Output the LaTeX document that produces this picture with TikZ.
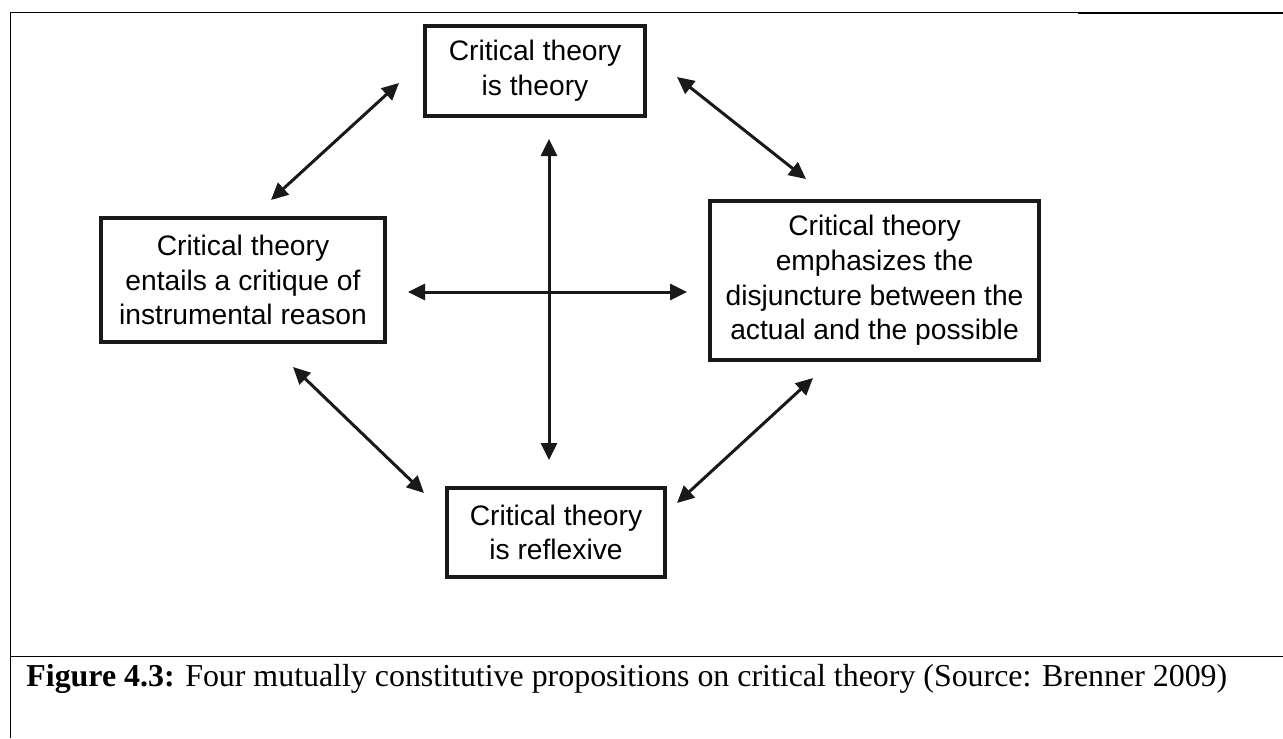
\documentclass[tikz,border=0pt]{standalone}
\usepackage{fontspec}
\setmainfont{Liberation Serif}
\newfontfamily\boxfont{Liberation Sans}
\usetikzlibrary{arrows.meta}
\tikzset{
  prop/.style={draw=black!90,line width=1.8pt,align=center,inner sep=0pt,
    font=\boxfont\fontsize{14.1}{17.3}\selectfont},
  link/.style={<->,line width=1.5pt,draw=black!90}
}
\begin{document}
\begin{tikzpicture}[x=0.5pt,y=-0.5pt,>={Triangle[length=8.5pt,width=8pt]}]
	\useasboundingbox (0,0) rectangle (1283,738);
	% table cell
	\draw[line width=0.5pt] (10,738)--(10,12.7)--(1078,12.7);
	\draw[line width=1pt] (1078,13)--(1283,13);
	\draw[line width=0.75pt] (10,656.5)--(1283,656.5);
	% propositions
	\node[prop,minimum width=110.2pt,minimum height=45.2pt] (theory) at (535,71) {Critical theory\\is theory};
	\node[prop,minimum width=142.2pt,minimum height=62.2pt] (reason) at (243,280) {Critical theory\\entails a critique of\\instrumental reason};
	\node[prop,minimum width=164.7pt,minimum height=79.7pt] (possible) at (874.5,280.5) {Critical theory\\emphasizes the\\disjuncture between the\\actual and the possible};
	\node[prop,minimum width=109.2pt,minimum height=44.7pt] (reflexive) at (556,532.5) {Critical theory\\is reflexive};
	% arrow ends
	\coordinate (tl1) at (271,200); \coordinate (tl2) at (399,83);
	\coordinate (tr1) at (677,77); \coordinate (tr2) at (806,179);
	\coordinate (bl1) at (293,367); \coordinate (bl2) at (424,493);
	\coordinate (br1) at (813,378); \coordinate (br2) at (677,503);
	\coordinate (h1) at (408,292); \coordinate (h2) at (687,292);
	\coordinate (v1) at (549,139); \coordinate (v2) at (549,460);
	\draw[link] (tl1)--(tl2);
	\draw[link] (tr1)--(tr2);
	\draw[link] (bl1)--(bl2);
	\draw[link] (br1)--(br2);
	\draw[link] (h1)--(h2);
	\draw[link] (v1)--(v2);
	% caption
	\node[anchor=base west,inner sep=0pt,font=\fontsize{15.95}{19}\selectfont] (caption) at (26,686) {\textbf{Figure 4.3:} Four mutually constitutive propositions on critical theory (Source: Brenner 2009)};
\end{tikzpicture}
\end{document}
